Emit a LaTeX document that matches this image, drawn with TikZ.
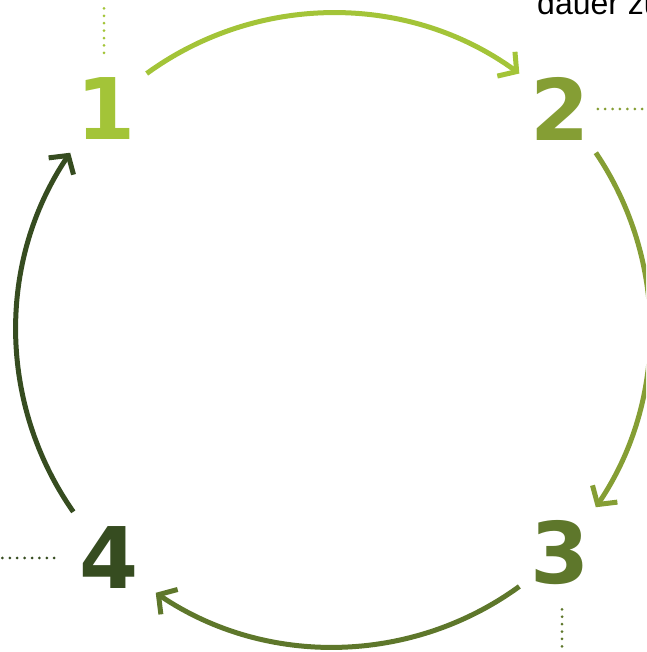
\documentclass[tikz,border=0pt]{standalone}
\usepackage{fontspec}
\setmainfont{DejaVu Sans}
\newfontfamily\labelfont{Liberation Sans}
\usetikzlibrary{arrows.meta, positioning}
\definecolor{stepone}{RGB}{163, 196, 56}
\definecolor{steptwo}{RGB}{133, 158, 52}
\definecolor{stepthree}{RGB}{94, 119, 43}
\definecolor{stepfour}{RGB}{54, 76, 32}

\begin{document}
\begin{tikzpicture}[x=1pt, y=1pt,
  num/.style={inner sep=0pt, font=\fontsize{85}{85}\selectfont\bfseries},
  cyclearc/.style={line width=5pt, -{Straight Barb[length=13pt, width=30pt, line width=5pt]}},
  dots/.style={line width=3pt, line cap=round, dash pattern=on 0pt off 7.4pt}
]
  \clip (0,0) rectangle (646,652);
  \coordinate (c) at (333,322);

  % numbers
  \node[num, text=stepone]   (n1) at (106,543) {1};
  \node[num, text=steptwo]   (n2) at (560,543) {2};
  \node[num, text=stepthree] (n3) at (560,99)  {3};
  \node[num, text=stepfour]  (n4) at (109,94)  {4};

  % cut-off text at the top
  \node[anchor=base west, inner sep=0pt, font=\labelfont\fontsize{32}{32}\selectfont] (txt) at (537,637) {dauer zu};

  % arcs between the steps
  \draw[cyclearc, stepone]   ([shift={(126:317)}]c) arc[start angle=126, end angle=54, radius=317];
  \draw[cyclearc, steptwo]   ([shift={(34:317)}]c) arc[start angle=34, end angle=-34, radius=317];
  \draw[cyclearc, stepthree] ([shift={(-54:317)}]c) arc[start angle=-54, end angle=-124, radius=317];
  \draw[cyclearc, stepfour]  ([shift={(215:317)}]c) arc[start angle=215, end angle=146, radius=317];

  % dotted leaders
  \draw[dots, stepone]   ([yshift=25pt]n1.north -| 104,0) -- ++(0,50);
  \draw[dots, steptwo]   ([xshift=8pt]n2.east) -- ++(46,0);
  \draw[dots, stepthree] ([yshift=-24pt]n3.south -| 562,0) -- ++(0,-44);
  \draw[dots, stepfour]  ([xshift=-25pt]n4.west) -- ++(-52,0);
\end{tikzpicture}
\end{document}
